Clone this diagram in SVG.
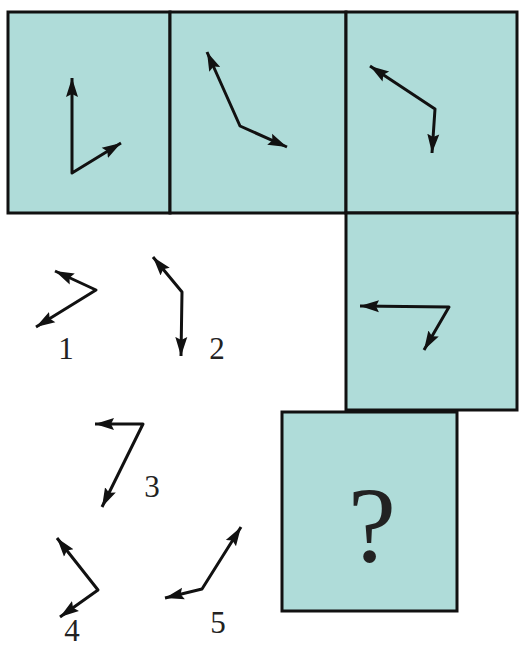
<svg xmlns="http://www.w3.org/2000/svg" width="519" height="648" viewBox="0 0 519 648">
<defs>
<style>
.box{fill:#afdcd9;stroke:#111;stroke-width:3}
.arr{fill:none;stroke:#111;stroke-width:3;stroke-linejoin:round;marker-start:url(#ah);marker-end:url(#ah)}
.lbl{font-family:"Liberation Serif","Times New Roman",serif;font-size:31px;fill:#222;text-anchor:middle}
.q{font-family:"Liberation Serif","Times New Roman",serif;font-size:108px;fill:#222;text-anchor:middle}
</style>
<marker id="ah" markerUnits="userSpaceOnUse" markerWidth="20" markerHeight="14" refX="19" refY="6.5" orient="auto-start-reverse">
<path d="M0,0.5 L19,6.5 L0,12.5 L3,6.5 z" fill="#111"/>
</marker>
</defs>
<rect width="519" height="648" fill="#fff"/>
<g id="panel1">
<rect class="box" x="8" y="12" width="162" height="201"/>
<polyline class="arr" points="72,78 72,173 121,143"/>
</g>
<g id="panel2">
<rect class="box" x="170" y="12" width="176" height="201"/>
<polyline class="arr" points="207,52 240,126 287,147"/>
</g>
<g id="panel3">
<rect class="box" x="346" y="12" width="171" height="201"/>
<polyline class="arr" points="370,66 435,109 432,153"/>
</g>
<g id="panel4">
<rect class="box" x="346" y="213" width="171" height="197"/>
<polyline class="arr" points="360,306 449,307 424,350"/>
</g>
<g id="panel5">
<rect class="box" x="282" y="412" width="175" height="199"/>
<text class="q" x="372" y="561">?</text>
</g>
<g id="option1">
<polyline class="arr" points="55,271 96,290 36,327"/>
<text class="lbl" x="66" y="359">1</text>
</g>
<g id="option2">
<polyline class="arr" points="153,257 182,292 181,356"/>
<text class="lbl" x="217" y="359">2</text>
</g>
<g id="option3">
<polyline class="arr" points="95,424 143,424 102,507"/>
<text class="lbl" x="152" y="497">3</text>
</g>
<g id="option4">
<polyline class="arr" points="57,538 98,590 60,617"/>
<text class="lbl" x="72" y="641">4</text>
</g>
<g id="option5">
<polyline class="arr" points="241,527 202,589 165,598"/>
<text class="lbl" x="218" y="633">5</text>
</g>
</svg>
